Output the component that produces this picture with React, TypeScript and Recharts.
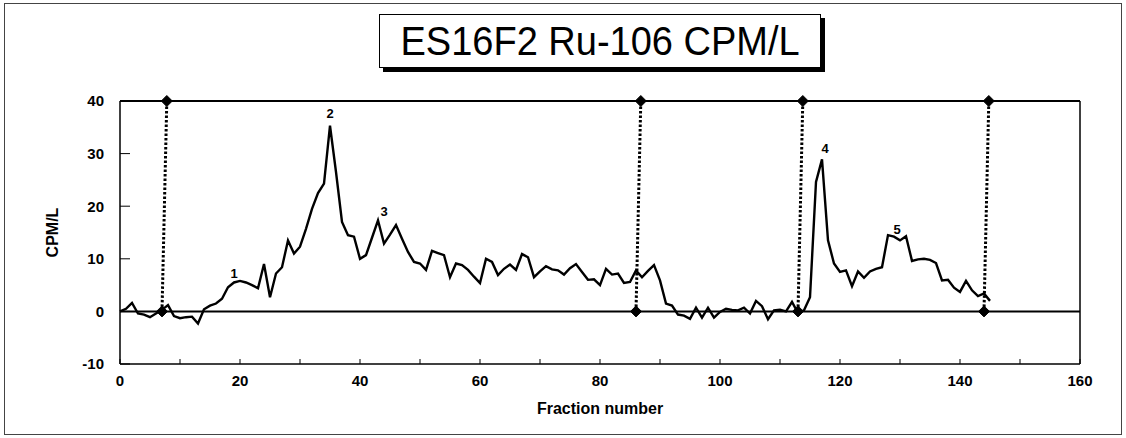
import React from 'react';
import { ComposedChart, Line, Scatter, XAxis, YAxis, ReferenceLine, Label } from 'recharts';

// CPM/L per fraction, starting at fraction 0
const cpmValues = [
  0, 0.5, 1.6, -0.4, -0.6, -1.1, -0.4, 0.3, 1.2, -0.9,
  -1.3, -1.1, -1.0, -2.3, 0.4, 1.1, 1.5, 2.4, 4.6, 5.5,
  5.8, 5.5, 5.0, 4.4, 9.0, 2.7, 7.2, 8.4, 13.5, 11.0,
  12.3, 15.7, 19.5, 22.5, 24.3, 35.3, 26.5, 17.0, 14.5, 14.2,
  10.0, 10.7, 14.0, 17.3, 12.9, 14.6, 16.4, 13.8, 11.3, 9.4,
  9.1, 7.9, 11.5, 11.1, 10.7, 6.5, 9.1, 8.8, 7.9, 6.6,
  5.4, 10.0, 9.4, 6.9, 8.1, 8.9, 7.9, 10.9, 10.3, 6.5,
  7.6, 8.6, 8.0, 7.8, 7.0, 8.2, 9.0, 7.5, 6.0, 6.1,
  5.0, 8.1, 7.0, 7.2, 5.4, 5.6, 7.8, 6.5, 7.7, 8.8,
  5.9, 1.5, 1.1, -0.6, -0.8, -1.4, 0.7, -1.2, 0.7, -1.2,
  -0.1, 0.5, 0.3, 0.2, 0.7, -0.4, 2.0, 1.0, -1.5, 0.2,
  0.3, 0.0, 1.8, -0.3, 0.2, 2.7, 24.6, 28.9, 13.5, 9.1,
  7.5, 7.8, 4.8, 7.6, 6.4, 7.6, 8.1, 8.4, 14.5, 14.2,
  13.5, 14.3, 9.6, 9.9, 10.0, 9.8, 9.2, 5.9, 6.0, 4.5,
  3.7, 5.8, 4.0, 2.9, 3.4, 2.0,
];
const fractionNumbers = cpmValues.map((_, i) => i);

// cut markers: bottom (at 0) and top (at 40) fraction positions
const cutBottomX = [7, 86, 113, 144];
const cutTopX = [7.8, 86.8, 113.8, 144.8];
const cutBottomY = 0;
const cutTopY = 40;

// peak annotations
const peakLabelX = [19, 35, 44, 117.5, 129.5];
const peakLabelY = [7.2, 37.6, 19.0, 31.0, 15.6];
const peakLabelText = ['1', '2', '3', '4', '5'];

const xTicks = [0, 10, 20, 30, 40, 50, 60, 70, 80, 90, 100, 110, 120, 130, 140, 150, 160];
const yTicks = [-10, 0, 10, 20, 30, 40];

const mainData = fractionNumbers.map((x, i) => ({ x, y: cpmValues[i] }));
const markerData = [
  ...cutBottomX.map((x) => ({ x, y: cutBottomY })),
  ...cutTopX.map((x) => ({ x, y: cutTopY })),
];
const cutLines = cutBottomX.map((x, i) => [
  { x, y: cutBottomY },
  { x: cutTopX[i], y: cutTopY },
]);
const peakData = peakLabelX.map((x, i) => ({ x, y: peakLabelY[i], label: peakLabelText[i] }));

const FONT = '"Liberation Sans", Arial, sans-serif';

const Diamond = (props: any) => {
  const { cx, cy } = props;
  if (cx == null || cy == null) return null;
  const r = 5.5;
  return (
    <polygon
      points={`${cx},${cy - r} ${cx + r},${cy} ${cx},${cy + r} ${cx - r},${cy}`}
      fill="#000"
      stroke="#000"
    />
  );
};

const PeakText = (props: any) => {
  const { cx, cy, payload } = props;
  if (cx == null || cy == null) return null;
  return (
    <text
      x={cx}
      y={cy}
      textAnchor="middle"
      dominantBaseline="central"
      fontFamily={FONT}
      fontWeight="bold"
      fontSize={13}
      fill="#000"
    >
      {payload.label}
    </text>
  );
};

export default function App() {
  return (
    <div
      style={{
        position: 'absolute',
        left: 0,
        top: 0,
        width: 1126,
        height: 438,
        background: '#fff',
        fontFamily: FONT,
      }}
    >
      <div
        style={{
          position: 'absolute',
          left: 4,
          top: 3,
          width: 1116,
          height: 430,
          border: '1px solid #444',
        }}
      />
      <ComposedChart
        width={1126}
        height={438}
        margin={{ top: 101, right: 46, bottom: 14, left: 40 }}
        style={{ position: 'absolute', left: 0, top: 0 }}
      >
        <XAxis
          type="number"
          dataKey="x"
          domain={[0, 160]}
          ticks={xTicks}
          tickFormatter={(v: number) => (v % 20 === 0 ? String(v) : '')}
          axisLine={{ stroke: '#000', strokeWidth: 1.5 }}
          tickLine={{ stroke: '#000', strokeWidth: 1 }}
          tickSize={-5}
          tickMargin={16}
          height={60}
          tick={{ fill: '#000', fontSize: 15, fontWeight: 'bold', fontFamily: FONT }}
        >
          <Label
            value="Fraction number"
            position="insideBottom"
            offset={10}
            style={{ fill: '#000', fontSize: 16, fontWeight: 'bold', fontFamily: FONT }}
          />
        </XAxis>
        <YAxis
          type="number"
          dataKey="y"
          domain={[-10, 40]}
          ticks={yTicks}
          axisLine={{ stroke: '#000', strokeWidth: 1.5 }}
          tickLine={{ stroke: '#000', strokeWidth: 1 }}
          tickSize={-10}
          tickMargin={26}
          width={80}
          tick={{ fill: '#000', fontSize: 15, fontWeight: 'bold', fontFamily: FONT }}
        >
          <Label
            content={(p: any) => {
              const vb = p.viewBox || {};
              const cx = 52;
              const cy = vb.y + vb.height / 2;
              return (
                <text
                  x={cx}
                  y={cy}
                  transform={`rotate(-90, ${cx}, ${cy})`}
                  textAnchor="middle"
                  dominantBaseline="central"
                  fontFamily={FONT}
                  fontWeight="bold"
                  fontSize={16}
                  fill="#000"
                >
                  CPM/L
                </text>
              );
            }}
          />
        </YAxis>
        <ReferenceLine x={160} stroke="#000" strokeWidth={1.5} />
        <ReferenceLine y={40} stroke="#000" strokeWidth={2.2} />
        <ReferenceLine y={0} stroke="#000" strokeWidth={2} />
        {cutLines.map((d, i) => (
          <Line
            key={'cut' + i}
            data={d}
            dataKey="y"
            type="linear"
            stroke="#000"
            strokeWidth={3}
            strokeDasharray="2.5 2"
            dot={false}
            activeDot={false}
            isAnimationActive={false}
          />
        ))}
        <Line
          data={mainData}
          dataKey="y"
          type="linear"
          stroke="#000"
          strokeWidth={2.4}
          dot={false}
          activeDot={false}
          isAnimationActive={false}
        />
        <Scatter data={markerData} dataKey="y" shape={<Diamond />} isAnimationActive={false} />
        <Scatter data={peakData} dataKey="y" shape={<PeakText />} isAnimationActive={false} />
      </ComposedChart>
      <div
        style={{
          position: 'absolute',
          left: 379,
          top: 14,
          width: 440,
          height: 52,
          border: '1.5px solid #000',
          boxShadow: '4px 4px 0 #000',
          background: '#fff',
          display: 'flex',
          alignItems: 'center',
          justifyContent: 'center',
          fontFamily: FONT,
          fontSize: 40,
          color: '#000',
          whiteSpace: 'nowrap',
        }}
      >
        <span style={{ display: 'inline-block', transform: 'scaleX(0.95)' }}>ES16F2 Ru-106 CPM/L</span>
      </div>
    </div>
  );
}
